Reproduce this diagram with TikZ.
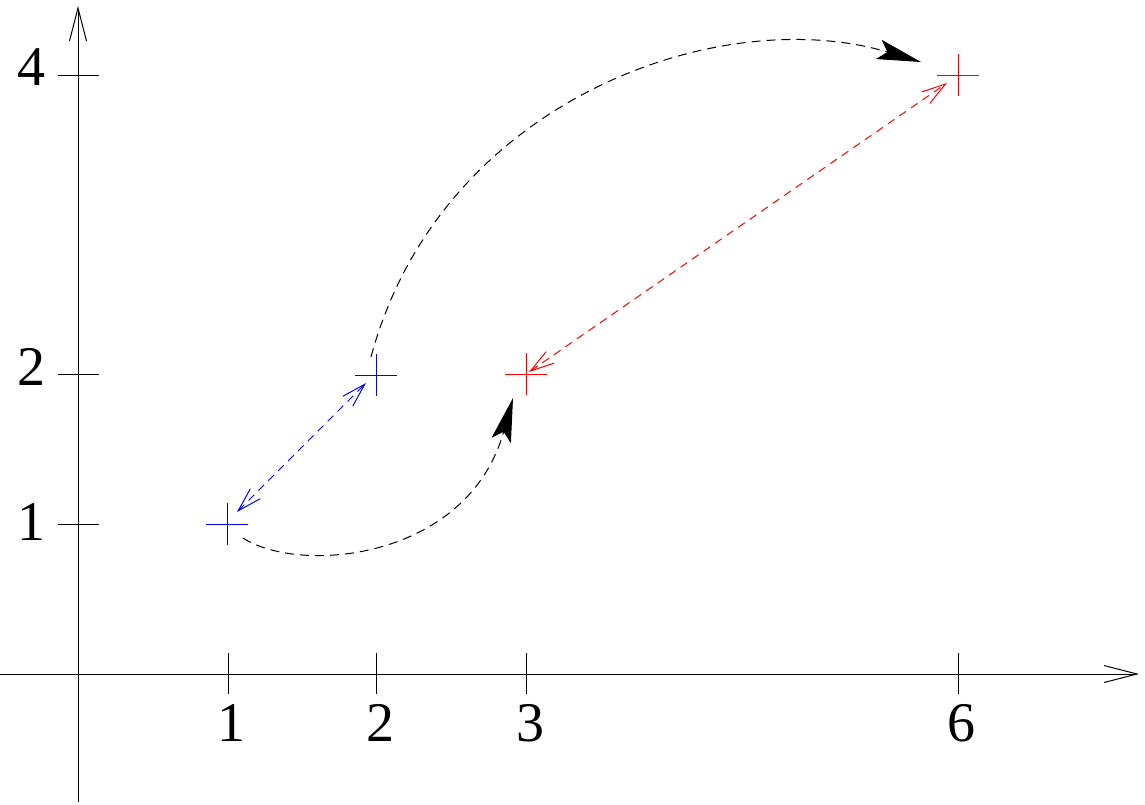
\documentclass[tikz,border=0pt]{standalone}
\usepackage{fontspec}
\newfontfamily\lblfont{Liberation Serif}
\usetikzlibrary{arrows.meta,calc}
\begin{document}
\begin{tikzpicture}[x=0.5pt,y=-0.5pt,
  ax/.style={line width=0.5pt, draw=black, -{Straight Barb[length=16.5pt,width=8.5pt]}},
  tickline/.style={line width=0.5pt},
  lbl/.style={font=\lblfont\fontsize{28}{30}\selectfont, inner sep=0pt},
  crs/.style={line width=0.5pt},
  dbl/.style={line width=0.5pt, dash pattern=on 4pt off 3pt,
    {Straight Barb[length=12pt,width=7pt]}-{Straight Barb[length=12pt,width=7pt]}},
  move/.style={line width=0.5pt, black, dash pattern=on 4.5pt off 3pt,
    -{Stealth[length=22pt,width=10pt,inset=4.5pt]}},
]
\useasboundingbox (0,0) rectangle (1145,804);
% axes
\coordinate (xs) at (0,674);
\coordinate (xe) at (1139,674);
\coordinate (ys) at (78,802);
\coordinate (ye) at (78,6);
\draw[ax] (xs) -- (xe);
\draw[ax] (ys) -- (ye);
% x ticks and labels
\foreach \n/\x/\lx in {1/228/231, 2/376/380, 3/526/530, 6/958/961} {
  \coordinate (xt\n a) at (\x,653);
  \coordinate (xt\n b) at (\x,694);
  \draw[tickline] (xt\n a) -- (xt\n b);
  \node[lbl, anchor=base] (xl\n) at (\lx,741) {\n};
}
% y ticks and labels
\foreach \n/\y/\by in {1/524/540, 2/374/385, 4/75/85} {
  \coordinate (yt\n a) at (58,\y);
  \coordinate (yt\n b) at (99,\y);
  \draw[tickline] (yt\n a) -- (yt\n b);
  \node[lbl, anchor=base east] (yl\n) at (46,\by) {\n};
}
% points
\coordinate (b1) at (227,524);
\coordinate (b2) at (376,375);
\coordinate (r1) at (526,374);
\coordinate (r2) at (958,75);
\foreach \p/\c in {b1/blue,b2/blue,r1/red,r2/red}
  \draw[crs,\c] ($(\p)+(-21,0)$) -- ($(\p)+(21,0)$)
                ($(\p)+(0,-21)$) -- ($(\p)+(0,21)$);
% double arrows
\draw[dbl, blue] ($(b1)+(10,-12)$) -- ($(b2)+(-10,8)$);
\draw[dbl, red] ($(r1)+(3,-2)$) -- ($(r2)+(-11,8)$);
% curved moves
\draw[move] ($(b1)+(16,14)$) .. controls (300,575) and (468,560) .. ($(r1)+(-13,24)$);
\draw[move] ($(b2)+(-5,-18)$) .. controls (440,100) and (720,2) .. ($(r2)+(-37,-13)$);
\end{tikzpicture}
\end{document}
